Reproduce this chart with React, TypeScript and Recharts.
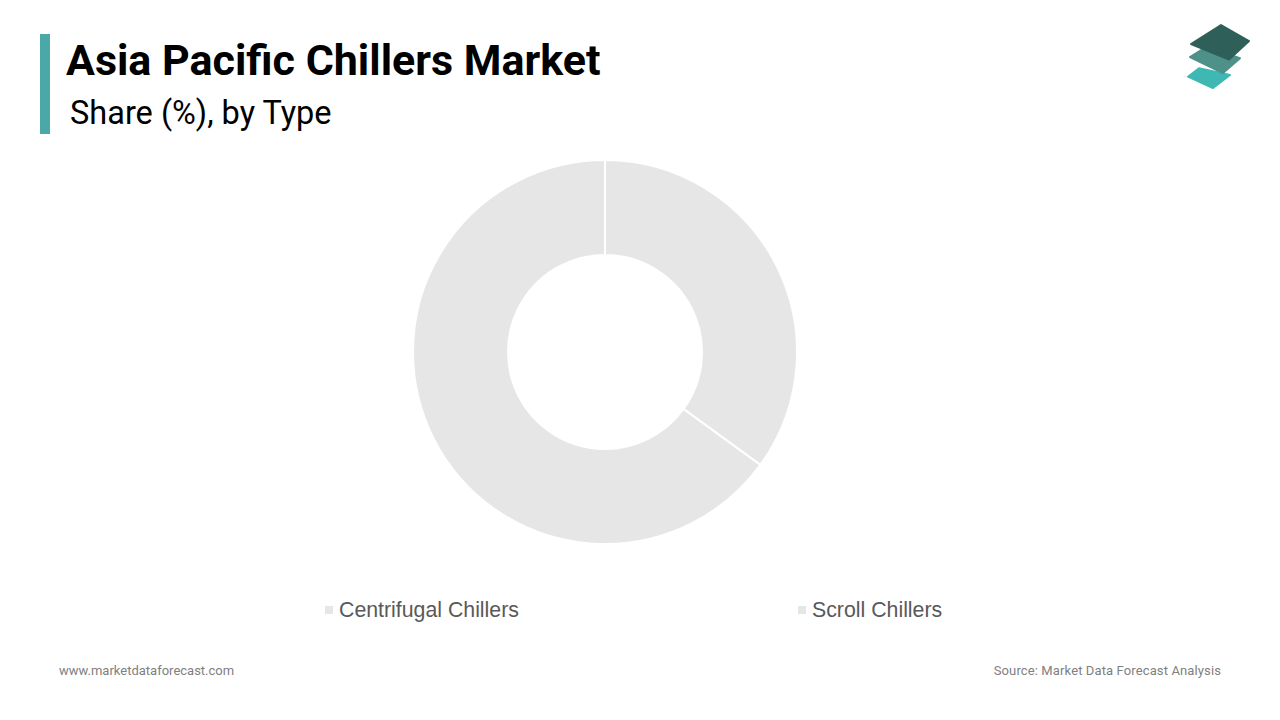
import React from "react";
import { PieChart, Pie, Cell, Legend } from "recharts";

const categories = ["Centrifugal Chillers", "Scroll Chillers"];
const shares = [35, 65];
const sliceColors = ["#e6e6e6", "#e6e6e6"];

const data = categories.map((name, i) => ({ name, value: shares[i] }));

const legendX = [325, 798];

const renderLegend = () => (
  <div style={{ position: "relative", width: 1280, height: 30 }}>
    {categories.map((c, i) => (
      <div
        key={c}
        style={{
          position: "absolute",
          left: legendX[i],
          top: 0,
          display: "flex",
          alignItems: "center",
          fontFamily: "'Liberation Sans', Arial, sans-serif",
          fontSize: 21.3,
          color: "#595959",
          whiteSpace: "nowrap",
          lineHeight: "26px",
        }}
      >
        <span
          style={{
            display: "inline-block",
            width: 8,
            height: 8,
            background: sliceColors[i],
            marginRight: 6,
          }}
        />
        {c}
      </div>
    ))}
  </div>
);

export default function App() {
  return (
    <div
      style={{
        position: "absolute",
        left: 0,
        top: 0,
        width: 1280,
        height: 720,
        background: "#ffffff",
        overflow: "hidden",
      }}
    >
      <div
        style={{
          position: "absolute",
          left: 40,
          top: 34,
          width: 10,
          height: 100,
          background: "#4aa9a8",
        }}
      />
      <div
        style={{
          position: "absolute",
          left: 66,
          top: 35,
          fontFamily: "Roboto, sans-serif",
          fontWeight: 700,
          fontSize: 43,
          color: "#000",
          lineHeight: "50px",
          whiteSpace: "nowrap",
        }}
      >
        Asia Pacific Chillers Market
      </div>
      <div
        style={{
          position: "absolute",
          left: 70,
          top: 93,
          fontFamily: "Roboto, sans-serif",
          fontWeight: 400,
          fontSize: 32.5,
          color: "#000",
          lineHeight: "40px",
          whiteSpace: "nowrap",
        }}
      >
        Share (%), by Type
      </div>
      <svg
        style={{ position: "absolute", left: 0, top: 0 }}
        width={1280}
        height={720}
      >
        <polygon
          points="1188,76.7 1199,68.3 1230,75 1213,88"
          fill="#3fb8b3"
          stroke="#3fb8b3"
          strokeWidth={2}
          strokeLinejoin="round"
        />
        <polygon
          points="1190,57 1206,47 1240,58.3 1223,73"
          fill="#4e908a"
          stroke="#4e908a"
          strokeWidth={2}
          strokeLinejoin="round"
        />
        <polygon
          points="1191,44 1221,25 1249,41 1229,59.5"
          fill="#2e6059"
          stroke="#2e6059"
          strokeWidth={2}
          strokeLinejoin="round"
        />
      </svg>
      <div style={{ position: "absolute", left: 0, top: 0 }}>
        <PieChart
          width={1280}
          height={720}
          margin={{ top: 0, right: 0, bottom: 0, left: 0 }}
        >
          <Pie
            data={data}
            dataKey="value"
            nameKey="name"
            cx={605}
            cy={352}
            innerRadius={97}
            outerRadius={192}
            startAngle={90}
            endAngle={-270}
            stroke="#ffffff"
            strokeWidth={2}
            isAnimationActive={false}
          >
            {data.map((d, i) => (
              <Cell key={d.name} fill={sliceColors[i]} />
            ))}
          </Pie>
          <Legend
            content={renderLegend}
            layout="horizontal"
            verticalAlign="bottom"
            wrapperStyle={{ top: 597, left: 0, width: 1280, bottom: "auto" }}
          />
        </PieChart>
      </div>
      <div
        style={{
          position: "absolute",
          left: 59,
          top: 663,
          fontFamily: "Roboto, sans-serif",
          fontSize: 13,
          color: "#808080",
          whiteSpace: "nowrap",
        }}
      >
        www.marketdataforecast.com
      </div>
      <div
        style={{
          position: "absolute",
          right: 59,
          top: 663,
          fontFamily: "Roboto, sans-serif",
          fontSize: 13,
          letterSpacing: 0.12,
          color: "#808080",
          whiteSpace: "nowrap",
        }}
      >
        Source: Market Data Forecast Analysis
      </div>
    </div>
  );
}
